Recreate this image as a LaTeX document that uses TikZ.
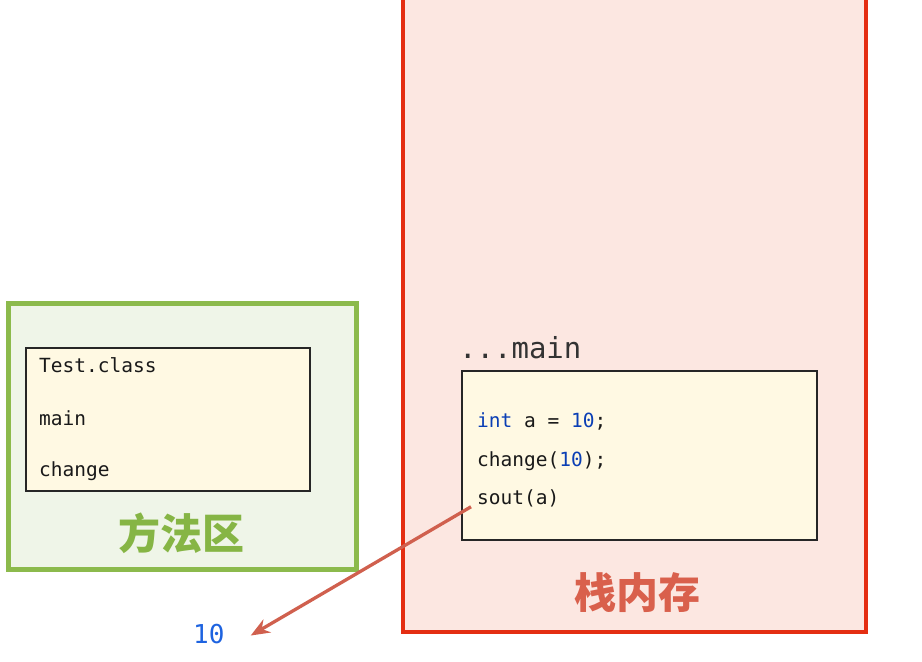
\documentclass[tikz,border=0pt]{standalone}
\usepackage{fontspec}
\setmonofont{DejaVu Sans Mono}
\newfontfamily\cjk{Noto Sans CJK SC}
\usetikzlibrary{arrows.meta, positioning}

\definecolor{stackred}{HTML}{E42E12}
\definecolor{stackfill}{HTML}{FCE7E1}
\definecolor{stacktext}{HTML}{D9604C}
\definecolor{greenline}{HTML}{8CBA4C}
\definecolor{greenfill}{HTML}{EFF5E8}
\definecolor{greentext}{HTML}{86B545}
\definecolor{cream}{HTML}{FFF9E3}
\definecolor{kwblue}{HTML}{0B3FB5}
\definecolor{numblue}{HTML}{1E63E0}
\definecolor{arrowred}{HTML}{D0604E}

\begin{document}
\begin{tikzpicture}[
    x=1pt, y=-1pt,
    frame/.style={rectangle, draw=black!85, line width=1.8pt, fill=cream,
                  anchor=north west, inner sep=0pt},
    code/.style={anchor=base west, inner sep=0pt, text=black!90,
                 font=\fontsize{19.5}{20}\ttfamily},
    area/.style={font=\fontsize{42}{44}\cjk\bfseries},
    call/.style={-{Stealth[length=19pt, width=15pt]}, line width=3.3pt, arrowred}
]
\useasboundingbox (0,0) rectangle (922,662);

\fill[stackfill] (403,-5) rectangle (866,632);
\draw[stackred, line width=4.5pt] (403,-5) -- (403,632) -- (866,632) -- (866,-5);

\node[rectangle, draw=greenline, line width=4.5pt, fill=greenfill, anchor=north west,
      minimum width=348, minimum height=266, inner sep=0pt] (method) at (6,301) {};
\node[frame, minimum width=284, minimum height=143] (classbox) at (25,347) {};
\node[code] (test) at (39,372) {Test.class};
\node[code] (mainm) at (39,425) {main};
\node[code] (chg) at (39,476) {change};
\node[area, text=greentext] (methodlbl) at (181,533) {方法区};

\node[code, font=\fontsize{29}{30}\ttfamily, text=black!80] (mainlbl) at (459,358) {...main};
\node[frame, minimum width=355, minimum height=169] (mainframe) at (461,370) {};
\node[code] (decl) at (477,427) {\textcolor{kwblue}{int} a = \textcolor{kwblue}{10};};
\node[code] (callc) at (477,466) {change(\textcolor{kwblue}{10});};
\node[code] (sout) at (477,504) {sout(a)};
\node[area, text=stacktext] (stacklbl) at (637,593) {栈内存};

\node[code, font=\fontsize{26}{28}\ttfamily, text=numblue] (ten) at (193,643) {10};

\draw[call] ([xshift=-6pt]sout.south west) -- ([xshift=26pt, yshift=-2pt]ten.east);
\end{tikzpicture}
\end{document}
